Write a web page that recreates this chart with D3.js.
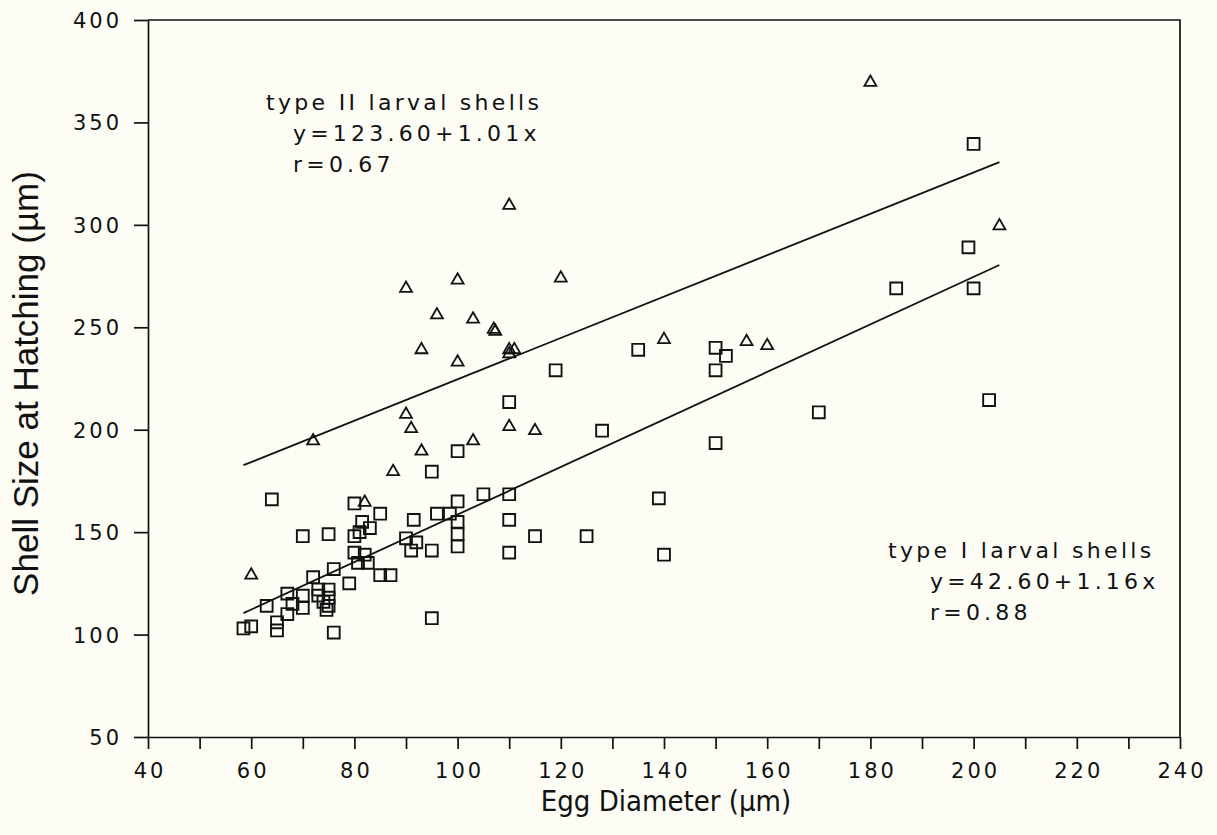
<!DOCTYPE html>
<html>
<head>
<meta charset="utf-8">
<script src="https://cdn.jsdelivr.net/npm/d3@7"></script>
<style>
  body { margin: 0; background: #fdfdf5; }
  svg { display: block; }
  .tick text { font-family: "DejaVu Sans", sans-serif; font-size: 21px; letter-spacing: 3px; fill: #111; }
  .note { font-family: "DejaVu Sans", sans-serif; font-size: 22px; letter-spacing: 3.3px; fill: #111; }
  .note.eq { letter-spacing: 4.2px; }
</style>
</head>
<body>
<svg id="chart" width="1217" height="835"></svg>
<script>
// type I larval shells (squares): [egg diameter, shell size]
var typeOne = [
  [58.5,103],[60,104],[63,114],[65,102],[65,106],[67,110],[67,120],[68,115],[70,113],[70,119],
  [72,128],[73,122],[75,122],[73,119],[75,118],[74,116],[75,114],[74.6,112],[76,101],[76,132],
  [79,125],[80,140],[82,139],[80.7,135],[82.6,135],[85,129],[87,129],[80,148],[81,150],[75,149],
  [70,148],[64,166],[80,164],[85,159],[81.5,155],[83,152],[90,147],[92,145],[91,141],[95,141],
  [91.5,156],[96,159],[98.5,159],[100,155],[100,149],[100,143],[100,165],[95,179.5],[100,189.5],[105,168.5],
  [95,108],[110,168.5],[110,156],[110,140],[110,213.5],[115,148],[125,148],[119,229],[128,199.5],[135,239],
  [139,166.5],[140,139],[150,240],[152,236],[150,229],[150,193.5],[170,208.5],[185,269],[199,289],[200,269],
  [200,339.5],[203,214.5]
];

// type II larval shells (triangles)
var typeTwo = [
  [60,129],[72,194.5],[82,164.5],[87.5,179.5],[90,207.5],[91,200.5],[93,189.5],[103,194.5],[100,233],[93,239],
  [90,269],[100,273],[96,256],[103,254],[107,249],[107.3,248],[110,237],[110,239],[111,239],[110,309.5],
  [110,201.5],[115,199.5],[120,274],[140,244],[156,243],[160,241],[180,369.5],[205,299.5]
];

// regression lines: intercept, slope, and the diameter range they cover
var fitOne = { a: 42.60, b: 1.16 };
var fitTwo = { a: 123.60, b: 1.01 };
var fitRange = [58.5, 205];

var noteOne = ["type I larval shells", "y=42.60+1.16x", "r=0.88"];
var noteTwo = ["type II larval shells", "y=123.60+1.01x", "r=0.67"];

var xTicks = d3.range(40, 241, 10);
var xLabelled = d3.range(40, 241, 20);
var yTicks = d3.range(50, 401, 50);

var svg = d3.select("#chart");

var x = d3.scaleLinear().domain([40, 240]).range([148, 1180]);
var y = d3.scaleLinear().domain([50, 400]).range([737, 20]);

// axes
var xAxis = d3.axisBottom(x)
  .tickValues(xTicks)
  .tickSize(12)
  .tickSizeOuter(0)
  .tickPadding(14)
  .tickFormat(function(d) { return xLabelled.indexOf(d) >= 0 ? d : ""; });

var yAxis = d3.axisLeft(y)
  .tickValues(yTicks)
  .tickSize(14)
  .tickSizeOuter(0)
  .tickPadding(12);

var gx = svg.append("g")
  .attr("transform", "translate(0," + y(50) + ")")
  .call(xAxis);
gx.selectAll("text").attr("dx", "1.5px");

var gy = svg.append("g")
  .attr("transform", "translate(" + x(40) + ",0)")
  .call(yAxis);
gy.selectAll("text").attr("dy", "0.36em");

svg.selectAll(".domain, .tick line").attr("stroke", "#111").attr("stroke-width", 1.7);

// top and right frame
svg.append("path")
  .attr("d", "M" + x(40) + "," + y(400) + "H" + x(240) + "V" + y(50))
  .attr("fill", "none")
  .attr("stroke", "#111")
  .attr("stroke-width", 1.7);

// axis titles
svg.append("text")
  .attr("x", (x(40) + x(240)) / 2 + 2)
  .attr("y", 811)
  .attr("text-anchor", "middle")
  .style("font-family", "'DejaVu Sans Condensed', sans-serif")
  .style("font-size", "29px")
  .style("fill", "#111")
  .text("Egg Diameter (µm)");

svg.append("text")
  .attr("transform", "translate(38," + ((y(50) + y(400)) / 2 + 5) + ") rotate(-90)")
  .attr("text-anchor", "middle")
  .style("font-family", "'Liberation Sans', Arial, sans-serif")
  .style("font-size", "35px")
  .style("fill", "#111")
  .text("Shell Size at Hatching (µm)");

// fit lines
var fitLine = d3.line()
  .x(function(d) { return x(d[0]); })
  .y(function(d) { return y(d[1]); });

[fitOne, fitTwo].forEach(function(f) {
  svg.append("path")
    .datum(fitRange.map(function(v) { return [v, f.a + f.b * v]; }))
    .attr("d", fitLine)
    .attr("fill", "none")
    .attr("stroke", "#111")
    .attr("stroke-width", 1.8);
});

// markers
var square = d3.symbol().type(d3.symbolSquare).size(140);
var triangle = d3.symbol().type(d3.symbolTriangle).size(62);

svg.append("g").selectAll("path")
  .data(typeOne)
  .enter().append("path")
  .attr("d", square)
  .attr("transform", function(d) { return "translate(" + x(d[0]) + "," + y(d[1]) + ")"; })
  .attr("fill", "none")
  .attr("stroke", "#111")
  .attr("stroke-width", 1.9);

svg.append("g").selectAll("path")
  .data(typeTwo)
  .enter().append("path")
  .attr("d", triangle)
  .attr("transform", function(d) { return "translate(" + x(d[0]) + "," + y(d[1]) + ")"; })
  .attr("fill", "none")
  .attr("stroke", "#111")
  .attr("stroke-width", 1.8);

// annotations
function note(lines, left, indent, top) {
  svg.append("g").selectAll("text")
    .data(lines)
    .enter().append("text")
    .attr("class", function(d, i) { return i === 0 ? "note" : "note eq"; })
    .attr("x", function(d, i) { return i === 0 ? left : left + indent; })
    .attr("y", function(d, i) { return top + i * 31; })
    .text(function(d) { return d; });
}
note(noteTwo, 266, 27, 110);
note(noteOne, 888, 42, 558);
</script>
</body>
</html>
